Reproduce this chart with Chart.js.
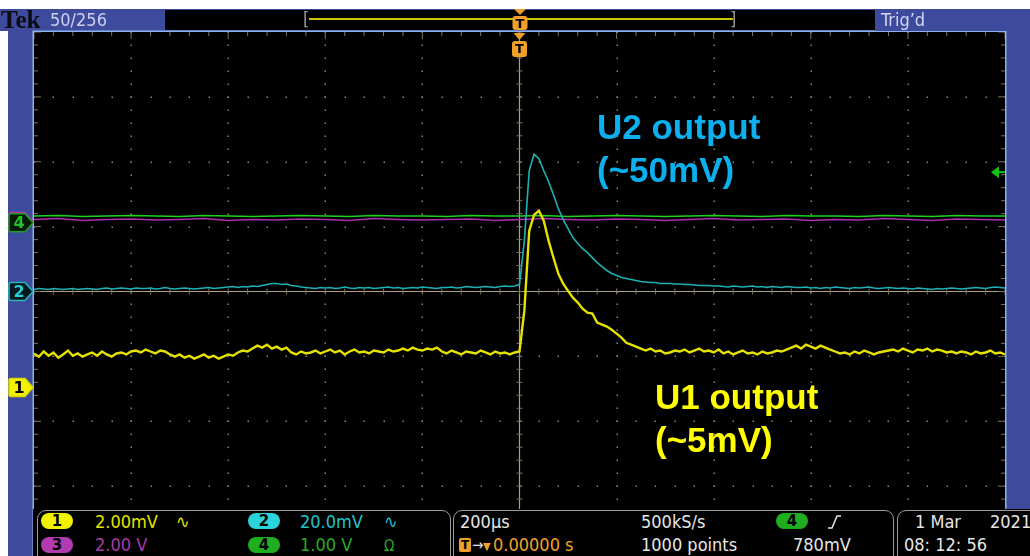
<!DOCTYPE html>
<html>
<head>
<meta charset="utf-8">
<script src="https://cdn.jsdelivr.net/npm/chart.js@4.4.1/dist/chart.umd.min.js"></script>
<style>
  html, body { margin: 0; padding: 0; background: #fff; }
  #scope { position: relative; width: 1030px; height: 556px; overflow: hidden; background: #fff;
           font-family: "DejaVu Sans Condensed", Roboto, "DejaVu Sans", sans-serif; }
  #scope canvas { position: absolute; left: 0; top: 0; z-index: 2; }
  .blue { position: absolute; background: #3e4a9c; z-index: 1; }
  .over { position: absolute; z-index: 3; }
  .t { position: absolute; z-index: 4; font-size: 18px; line-height: 18px; white-space: nowrap; }
  .badge { position: absolute; z-index: 4; width: 32px; height: 16px; border-radius: 8px;
           font: bold 15px "DejaVu Sans", sans-serif; line-height: 16px; text-align: center; color: #000; }
  .box { position: absolute; z-index: 3; top: 510px; height: 60px; border: 1.5px solid #9a9a9a;
         border-radius: 9px; background: #000; }
  .note { position: absolute; z-index: 4; font: bold 35px "Liberation Sans", Arial, sans-serif;
          line-height: 43px; white-space: nowrap; }
</style>
</head>
<body>
<div id="scope">
  <!-- blue instrument frame -->
  <div class="blue" style="left:0;top:9px;width:1030px;height:22px"></div>
  <div class="blue" style="left:8px;top:31px;width:26px;height:525px"></div>
  <div class="blue" style="left:1005px;top:31px;width:25px;height:480px"></div>

  <canvas id="scopeChart" width="1030" height="556"></canvas>

  <!-- header strip -->
  <div class="t" style="left:1px;top:8px;font:bold 25px 'Liberation Serif',serif;line-height:24px;color:#0b0b14">Tek</div>
  <div class="t" style="left:50px;top:11px;color:#cdd0f0">50/256</div>
  <div class="over" style="left:165px;top:10px;width:710px;height:20px;background:#000"></div>
  <div class="t" style="left:303px;top:10px;color:#9a9a9a">[</div>
  <div class="over" style="left:309px;top:18px;width:424px;height:2px;background:#c9c400;z-index:4"></div>
  <div class="t" style="left:730px;top:10px;color:#9a9a9a">]</div>
  <svg class="over" style="left:510px;top:9px;z-index:5" width="20" height="22">
    <path d="M4 0 L16 0 L10 6 Z" fill="#f0a02a"/>
    <rect x="2.5" y="7" width="15" height="14" rx="3" fill="#f0a02a"/>
    <text x="10" y="19" text-anchor="middle" font-family="DejaVu Sans" font-weight="bold" font-size="13" fill="#000">T</text>
  </svg>
  <div class="over" style="left:875px;top:9px;width:155px;height:22px;background:#3e4a9c"></div>
  <div class="t" style="left:881px;top:11px;color:#d4d6f4">Trig’d</div>

  <!-- annotations -->
  <div class="note" style="left:597px;top:105px;color:#0cb0ee">U2 output<br>(~50mV)</div>
  <div class="note" style="left:655px;top:375px;color:#ffff00">U1 output<br>(~5mV)</div>

  <!-- readout panel -->
  <div class="over" style="left:33px;top:509px;width:997px;height:47px;background:#000"></div>
  <div class="box" style="left:37px;width:412px"></div>
  <div class="box" style="left:453px;width:439px"></div>
  <div class="box" style="left:897px;width:150px"></div>

  <div class="badge" style="left:41px;top:513px;background:#f2f200">1</div>
  <div class="t" style="left:95px;top:513px;color:#e4e400">2.00mV</div>
  <div class="t" style="left:176px;top:513px;color:#e4e400">∿</div>
  <div class="badge" style="left:248px;top:513px;background:#2bd3da">2</div>
  <div class="t" style="left:300px;top:513px;color:#22c2ca">20.0mV</div>
  <div class="t" style="left:384px;top:513px;color:#22c2ca">∿</div>
  <div class="badge" style="left:41px;top:537px;background:#b13cb1">3</div>
  <div class="t" style="left:95px;top:536px;color:#a83aa8">2.00 V</div>
  <div class="badge" style="left:248px;top:537px;background:#20ae20">4</div>
  <div class="t" style="left:300px;top:536px;color:#27ad27">1.00 V</div>
  <div class="t" style="left:384px;top:537px;font-size:15px;color:#27ad27">Ω</div>

  <div class="t" style="left:460px;top:513px;color:#e6e6e6">200µs</div>
  <div class="over" style="left:459px;top:538px;width:12px;height:14px;background:#f0a02a;border-radius:2px;z-index:4;
       font:bold 12px 'DejaVu Sans',sans-serif;line-height:14px;text-align:center;color:#000">T</div>
  <div class="t" style="left:472px;top:536px;font-size:15px;color:#e6e6e6">→</div>
  <div class="t" style="left:483px;top:538px;font-size:11px;color:#f0a02a">▼</div>
  <div class="t" style="left:493px;top:536px;color:#f0a02a">0.00000 s</div>
  <div class="t" style="left:641px;top:513px;color:#e6e6e6">500kS/s</div>
  <div class="t" style="left:641px;top:536px;color:#e6e6e6">1000 points</div>
  <div class="badge" style="left:776px;top:513px;background:#20ae20">4</div>
  <svg class="over" style="left:826px;top:514px;z-index:4" width="16" height="16">
    <path d="M2 14 L6 14 L11 2 L15 2" stroke="#e6e6e6" stroke-width="1.5" fill="none"/>
  </svg>
  <div class="t" style="left:793px;top:536px;color:#e6e6e6">780mV</div>

  <div class="t" style="left:915px;top:513px;color:#e6e6e6">1 Mar</div>
  <div class="t" style="left:990px;top:513px;color:#e6e6e6">2021</div>
  <div class="t" style="left:904px;top:536px;color:#e6e6e6">08: 12: 56</div>
</div>

<script>
// horizontal: 200 µs/div, 10 divisions, trigger in the middle
const timePerDiv = 200;
const startTime = -1000;
const fastStep = 10;   // µs between stored samples, ch1/ch2
const slowStep = 50;   // µs between stored samples, ch3/ch4

// vertical settings (mV per div, ground position in div from centre)
const ch1Scale = 2;
const ch2Scale = 20;
const ch3Scale = 2000;
const ch4Scale = 1000;
const ch1Pos = -1.48;
const ch2Pos = 0;
const ch3Pos = 1.08;
const ch4Pos = 1.06;
const trigLevel = 780; // mV, ch4 rising edge

// CH1, U1 output (mV)
const ch1Values = [
  1.05, 0.95, 1.11, 0.98, 1.08, 0.92, 1.02, 1.14, 0.98, 1.05,
  0.95, 1.02, 1.08, 0.98, 1.11, 1.02, 0.95, 1.05, 1.08, 1.02,
  1.11, 1.14, 1.08, 1.17, 1.11, 1.05, 1.14, 1.11, 1.02, 0.95,
  1.02, 0.92, 0.98, 0.89, 0.95, 1.02, 0.92, 0.98, 0.89, 0.95,
  1.02, 0.98, 1.08, 1.14, 1.11, 1.20, 1.29, 1.23, 1.32, 1.20,
  1.26, 1.17, 1.23, 1.08, 1.02, 1.11, 1.05, 1.08, 1.14, 1.05,
  1.11, 1.17, 1.08, 1.14, 1.02, 1.11, 1.17, 1.08, 1.11, 1.05,
  1.14, 1.11, 1.08, 1.17, 1.11, 1.14, 1.20, 1.14, 1.23, 1.17,
  1.14, 1.20, 1.17, 1.23, 1.11, 1.05, 1.14, 1.08, 1.02, 1.11,
  1.08, 1.05, 1.14, 1.08, 1.02, 1.11, 1.05, 1.08, 1.02, 1.08,
  1.11,
  2.37, 4.83, 5.32, 5.45, 5.14, 4.52, 4.00, 3.51, 3.20, 2.98,
  2.77, 2.62, 2.43, 2.31, 2.28, 2.00, 1.94, 1.88, 1.78, 1.66,
  1.54, 1.38, 1.32, 1.26, 1.20, 1.14, 1.20, 1.11, 1.14, 1.05,
  1.08, 1.14,
  1.11, 1.17, 1.08, 1.14, 1.20, 1.11, 1.14, 1.08, 1.17,
  1.05, 1.11, 1.02, 1.08, 1.14, 1.05, 1.08, 1.02, 1.11, 1.05, 1.08, 1.14, 1.11, 1.17,
  1.23, 1.29, 1.20, 1.32, 1.26, 1.20, 1.29, 1.23, 1.17,
  1.11, 1.05, 1.08, 1.02, 1.11, 1.05, 1.14, 1.08, 1.02, 1.08, 1.11, 1.14,
  1.17, 1.11, 1.20, 1.14, 1.08, 1.17, 1.14, 1.20, 1.11, 1.17, 1.14, 1.08, 1.11,
  1.05, 1.11, 1.08, 1.02, 1.11, 1.05, 1.08, 1.14, 1.05, 1.08, 1.02
];

// CH2, U2 output (mV)
const ch2Values = [
  0.62, 0.92, 0.77, 0.62, 0.92, 0.77, 0.62, 0.77, 0.92, 0.62,
  0.77, 0.92, 0.77, 0.62,
  0.92, 1.08, 0.77, 0.92, 1.08, 0.92, 0.77, 1.08, 0.92, 0.92,
  1.08, 0.77, 0.92, 1.23, 0.92, 0.77, 0.92, 1.08, 0.92, 0.77,
  0.92, 1.08, 1.23, 0.92, 1.08, 1.23, 1.38,
  1.54, 1.23, 1.54, 1.38, 1.69, 1.54,
  1.85, 2.15, 2.46, 2.46, 2.15, 2.31, 1.85, 1.69, 1.38,
  1.23, 1.08, 0.92, 1.23, 1.08, 1.23, 0.92, 1.08, 1.38, 1.08,
  0.92, 1.23, 1.08, 1.23, 0.92, 1.08, 1.23, 1.38, 1.08, 1.23,
  0.92, 1.08, 1.23, 1.08, 1.38, 1.23, 1.08, 0.92, 1.23,
  1.23, 1.38, 1.08, 1.23, 1.54, 1.38, 1.23, 1.38, 1.54, 1.38,
  1.23, 1.54, 1.69, 1.54, 1.69,
  2.15,
  15.69, 37.23, 42.30, 40.92, 37.23, 33.85, 29.85, 25.54, 22.15, 19.38,
  16.62, 14.77, 13.23, 12.00, 10.46, 8.92, 7.69, 6.46, 5.54, 4.92,
  4.31, 4.00, 3.69, 3.38, 3.08, 2.92, 2.77, 2.77, 2.46, 2.46,
  2.46, 2.31, 2.31, 2.15, 2.15, 2.00, 1.85, 1.85, 1.85, 1.69,
  1.69, 1.54, 1.38, 1.69, 1.54, 1.38, 1.54, 1.69, 1.38, 1.54,
  1.23, 1.54, 1.38, 1.23, 1.54, 1.38, 1.23,
  1.23, 1.38, 1.08, 1.23, 0.92, 1.23, 1.08, 1.38, 1.23, 1.08,
  0.92, 1.23, 1.08, 1.23, 1.38, 1.08, 0.92, 1.08, 1.23, 1.08, 0.92,
  1.08, 0.92, 0.77, 1.08, 0.92, 0.77, 0.62, 0.92, 0.77, 0.92,
  1.08, 0.92, 0.77, 0.92, 1.08, 1.23, 1.08, 0.92, 1.23, 1.38,
  1.23, 1.08
];

// CH3 / CH4, flat (mV)
const ch3Values = [
  60, 90, 30, 60, 75, 45, 60, 90, 30, 60, 45, 75, 60, 30, 90, 60, 45, 60, 75, 30, 60,
  90, 60, 45, 75, 60, 30, 60, 90, 45, 60, 75, 30, 60, 45, 90, 60, 30, 75, 60, 45
];
const ch4Values = [
  104, 112, 96, 104, 112, 104, 96, 112, 104, 96, 104, 112, 104, 96, 112, 104, 104, 96, 112, 104, 104,
  112, 96, 104, 112, 104, 96, 104, 112, 104, 96, 112, 104, 104, 96, 112, 104, 96, 112, 104, 104
];

function toPoints(values, step, scale, pos) {
  return values.map((v, i) => ({ x: startTime + i * step, y: v / scale + pos }));
}

// dotted graticule, centre cross and edge ticks
const graticule = {
  id: 'graticule',
  beforeDatasetsDraw(chart) {
    const { ctx, chartArea: a, scales: { x, y } } = chart;
    ctx.save();
    ctx.fillStyle = '#000';
    ctx.fillRect(a.left, a.top, a.width, a.height);

    ctx.fillStyle = '#8a8468';
    for (let d = -4; d <= 4; d++) {
      const px = Math.round(x.getPixelForValue(d * timePerDiv));
      if (d === 0) continue;
      for (let s = -20; s <= 20; s++) {
        ctx.fillRect(px - 0.5, Math.round(y.getPixelForValue(s * 0.2)) - 0.5, 1.5, 1.5);
      }
    }
    for (let d = -3; d <= 3; d++) {
      if (d === 0) continue;
      const py = Math.round(y.getPixelForValue(d));
      for (let s = -25; s <= 25; s++) {
        ctx.fillRect(Math.round(x.getPixelForValue(s * 40)) - 0.5, py - 0.5, 1.5, 1.5);
      }
    }

    // centre cross
    const cx = x.getPixelForValue(0), cy = y.getPixelForValue(0);
    ctx.strokeStyle = 'rgba(200,190,160,0.85)';
    ctx.lineWidth = 1.2;
    ctx.beginPath();
    ctx.moveTo(cx, a.top); ctx.lineTo(cx, a.bottom);
    ctx.moveTo(a.left, cy); ctx.lineTo(a.right, cy);
    ctx.stroke();

    // minor ticks on centre lines and edges
    ctx.strokeStyle = '#7a7560';
    ctx.lineWidth = 1;
    ctx.beginPath();
    for (let s = -20; s <= 20; s++) {
      const py = y.getPixelForValue(s * 0.2);
      const len = s % 5 === 0 ? 7 : 4;
      ctx.moveTo(cx - 3, py); ctx.lineTo(cx + 3, py);
      ctx.moveTo(a.left, py); ctx.lineTo(a.left + len, py);
      ctx.moveTo(a.right, py); ctx.lineTo(a.right - len, py);
    }
    for (let s = -25; s <= 25; s++) {
      const px = x.getPixelForValue(s * 40);
      const len = s % 5 === 0 ? 7 : 4;
      ctx.moveTo(px, cy - 3); ctx.lineTo(px, cy + 3);
      ctx.moveTo(px, a.top); ctx.lineTo(px, a.top + len);
    }
    ctx.stroke();
    ctx.restore();
  }
};

function channelTag(ctx, yc, fill, stroke, color, label) {
  ctx.beginPath();
  ctx.moveTo(11, yc - 9);
  ctx.lineTo(25, yc - 9);
  ctx.lineTo(33, yc);
  ctx.lineTo(25, yc + 9);
  ctx.lineTo(11, yc + 9);
  ctx.quadraticCurveTo(9, yc + 9, 9, yc + 7);
  ctx.lineTo(9, yc - 7);
  ctx.quadraticCurveTo(9, yc - 9, 11, yc - 9);
  ctx.closePath();
  ctx.fillStyle = fill;
  ctx.fill();
  ctx.lineWidth = 1.5;
  ctx.strokeStyle = stroke;
  ctx.stroke();
  ctx.fillStyle = color;
  ctx.font = 'bold 16px "DejaVu Sans", sans-serif';
  ctx.textAlign = 'center';
  ctx.textBaseline = 'middle';
  ctx.fillText(label, 19, yc + 1);
}

// frame, channel ground tags, trigger markers
const scopeMarks = {
  id: 'scopeMarks',
  afterDraw(chart) {
    const { ctx, chartArea: a, scales: { x, y } } = chart;
    ctx.save();
    ctx.strokeStyle = '#8cb2ee';
    ctx.lineWidth = 1.5;
    ctx.strokeRect(a.left - 0.75, a.top - 0.75, a.width + 1.5, a.height + 10);

    channelTag(ctx, y.getPixelForValue(ch3Pos), '#1a061a', '#b13cb1', '#b13cb1', '3');
    channelTag(ctx, y.getPixelForValue(ch4Pos), '#041c06', '#1f9e24', '#22c02a', '4');
    channelTag(ctx, y.getPixelForValue(ch2Pos), '#03191c', '#22b8c0', '#2ad0d8', '2');
    channelTag(ctx, y.getPixelForValue(ch1Pos), '#f2f200', '#d8d800', '#000', '1');

    // trigger level arrow
    const ty = y.getPixelForValue(trigLevel / ch4Scale + ch4Pos);
    ctx.fillStyle = '#12c21a';
    ctx.beginPath();
    ctx.moveTo(a.right - 14, ty);
    ctx.lineTo(a.right - 6, ty - 6);
    ctx.lineTo(a.right - 6, ty + 6);
    ctx.closePath();
    ctx.fill();
    ctx.fillRect(a.right - 7, ty - 1, 7, 2);

    // trigger position marker
    const tx = x.getPixelForValue(0);
    ctx.fillStyle = '#f0a02a';
    ctx.beginPath();
    ctx.moveTo(tx - 6, a.top + 1);
    ctx.lineTo(tx + 6, a.top + 1);
    ctx.lineTo(tx, a.top + 8);
    ctx.closePath();
    ctx.fill();
    ctx.beginPath();
    ctx.roundRect(tx - 7.5, a.top + 9, 15, 16, 3);
    ctx.fill();
    ctx.fillStyle = '#000';
    ctx.font = 'bold 13px "DejaVu Sans", sans-serif';
    ctx.textAlign = 'center';
    ctx.textBaseline = 'middle';
    ctx.fillText('T', tx, a.top + 17.5);
    ctx.restore();
  }
};

new Chart(document.getElementById('scopeChart'), {
  type: 'line',
  data: {
    datasets: [
      { label: 'CH1', data: toPoints(ch1Values, fastStep, ch1Scale, ch1Pos), borderColor: '#e6e200', borderWidth: 2.4 },
      { label: 'CH2', data: toPoints(ch2Values, fastStep, ch2Scale, ch2Pos), borderColor: '#1fb0b4', borderWidth: 1.6 },
      { label: 'CH4', data: toPoints(ch4Values, slowStep, ch4Scale, ch4Pos), borderColor: '#22d022', borderWidth: 1.5 },
      { label: 'CH3', data: toPoints(ch3Values, slowStep, ch3Scale, ch3Pos), borderColor: '#b02cb0', borderWidth: 1.5 }
    ]
  },
  options: {
    responsive: false,
    animation: false,
    layout: { padding: { left: 34, top: 32, right: 25, bottom: 5 } },
    elements: { point: { radius: 0 }, line: { tension: 0 } },
    plugins: { legend: { display: false }, tooltip: { enabled: false } },
    scales: {
      x: { type: 'linear', min: startTime, max: -startTime, display: false },
      y: { min: -4, max: 4, display: false }
    }
  },
  plugins: [graticule, scopeMarks]
});
</script>
</body>
</html>
